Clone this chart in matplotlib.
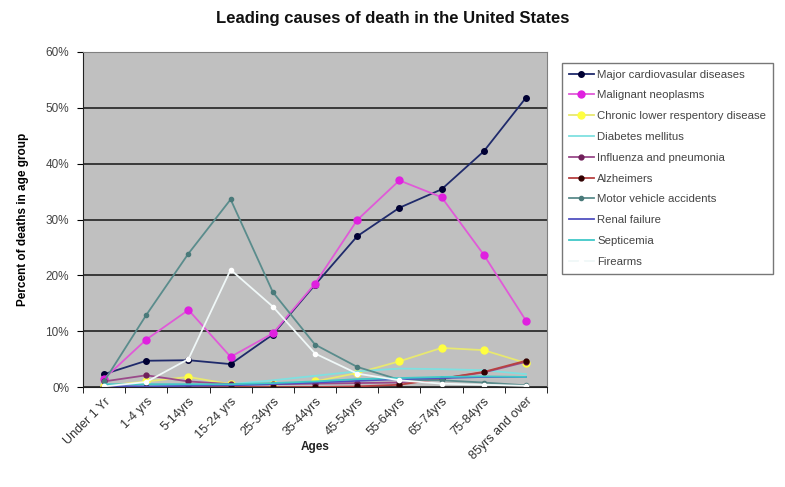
import numpy as np
import matplotlib.pyplot as plt

plt.rcParams['font.family'] = ['Liberation Sans', 'DejaVu Sans']

ages = ['Under 1 Yr', '1-4 yrs', '5-14yrs', '15-24 yrs', '25-34yrs', '35-44yrs',
        '45-54yrs', '55-64yrs', '65-74yrs', '75-84yrs', '85yrs and over']

# percent of deaths in each age group
cardiovascular = [2.3, 4.7, 4.8, 4.1, 9.4, 18.3, 27.0, 32.1, 35.4, 42.2, 51.8]
neoplasms = [1.5, 8.5, 13.8, 5.4, 9.6, 18.5, 29.9, 37.0, 34.0, 23.7, 11.9]
chronic_resp = [0.2, 1.0, 1.8, 0.5, 0.6, 1.0, 2.5, 4.6, 7.0, 6.6, 4.3]
diabetes = [0.0, 0.1, 0.2, 0.5, 1.2, 2.0, 2.8, 3.3, 3.2, 3.0, 2.3]
influenza = [1.0, 2.1, 1.0, 0.5, 0.5, 0.6, 0.7, 0.8, 1.5, 2.6, 4.5]
alzheimers = [0.0, 0.0, 0.0, 0.0, 0.0, 0.0, 0.1, 0.4, 1.5, 2.7, 4.7]
motor_vehicle = [1.0, 12.9, 23.9, 33.6, 17.0, 7.6, 3.6, 1.3, 1.2, 0.8, 0.3]
renal = [0.2, 0.1, 0.2, 0.3, 0.5, 0.8, 1.1, 1.4, 1.6, 1.8, 1.8]
septicemia = [0.5, 0.5, 0.5, 0.5, 0.7, 1.0, 1.4, 1.6, 1.8, 1.9, 1.8]
firearms = [0.1, 0.9, 5.0, 21.0, 14.4, 6.0, 2.4, 1.2, 0.6, 0.4, 0.2]

series = [
    ('Major cardiovasular diseases', cardiovascular, '#1f2a6b', 'o', '#000033', 4),
    ('Malignant neoplasms', neoplasms, '#e05ad8', 'o', '#e020e0', 5),
    ('Chronic lower respentory disease', chronic_resp, '#e8e870', 'o', '#ffff40', 5),
    ('Diabetes mellitus', diabetes, '#7fe0e0', None, None, 0),
    ('Influenza and pneumonia', influenza, '#9a4a8a', 'o', '#70205a', 3.5),
    ('Alzheimers', alzheimers, '#b84040', 'o', '#300000', 3.5),
    ('Motor vehicle accidents', motor_vehicle, '#5a8c8c', 'o', '#4a7a7a', 3),
    ('Renal failure', renal, '#5050c0', None, None, 0),
    ('Septicemia', septicemia, '#40c8c8', None, None, 0),
    ('Firearms', firearms, '#f0f8f8', 'o', '#ffffff', 3),
]

x = np.arange(len(ages))

fig = plt.figure(figsize=(7.85, 4.87), dpi=100)
ax = fig.add_axes([83 / 785, 1 - 387 / 487, 464 / 785, 335 / 487])
ax.set_facecolor('#c0c0c0')

for name, vals, color, marker, mcolor, ms in series:
    ax.plot(x, vals, color=color, lw=1.3, marker=marker, markersize=ms,
            markerfacecolor=mcolor, markeredgecolor=mcolor, label=name)

ax.set_xlim(-0.5, len(ages) - 0.5)
ax.set_ylim(0, 60)
ax.set_yticks(np.arange(0, 61, 10))
ax.set_yticklabels([f'{v}%' for v in range(0, 61, 10)], fontsize=8.5, color='#444444')
ax.yaxis.grid(True, color='#222222', lw=1.2)
ax.set_axisbelow(True)

ax.set_xticks(x)
ax.set_xticklabels(ages, rotation=45, ha='right', rotation_mode='anchor', fontsize=9,
                   color='#333333')
ax.tick_params(axis='x', length=0, pad=6)
ax.set_xticks(np.arange(-0.5, len(ages), 1), minor=True)
ax.tick_params(axis='x', which='minor', length=4, direction='out')
ax.tick_params(axis='y', length=4, direction='out', pad=6)

for side in ['top', 'right']:
    ax.spines[side].set_color('#808080')
ax.spines['left'].set_color('#222222')
ax.spines['bottom'].set_color('#222222')

ax.set_ylabel('Percent of deaths in age group', fontsize=8.5, fontweight='bold', labelpad=12)
fig.text(315 / 785, 1 - 447 / 487, 'Ages', ha='center', va='center', fontsize=8.5,
         fontweight='bold', color='#222222')

fig.text(0.5, 0.962, 'Leading causes of death in the United States', ha='center',
         va='center', fontsize=12, fontweight='bold', color='#111111')

leg = fig.legend(loc='upper left', bbox_to_anchor=(556 / 785, 1 - 57 / 487),
                 fontsize=8.2, frameon=True, fancybox=False, handlelength=2.2,
                 labelspacing=0.95, borderpad=0.6, handletextpad=0.3)
leg.get_frame().set_edgecolor('#555555')
leg.get_frame().set_linewidth(1.0)
for t in leg.get_texts():
    t.set_color('#444444')

plt.savefig('out.png', dpi=100)
